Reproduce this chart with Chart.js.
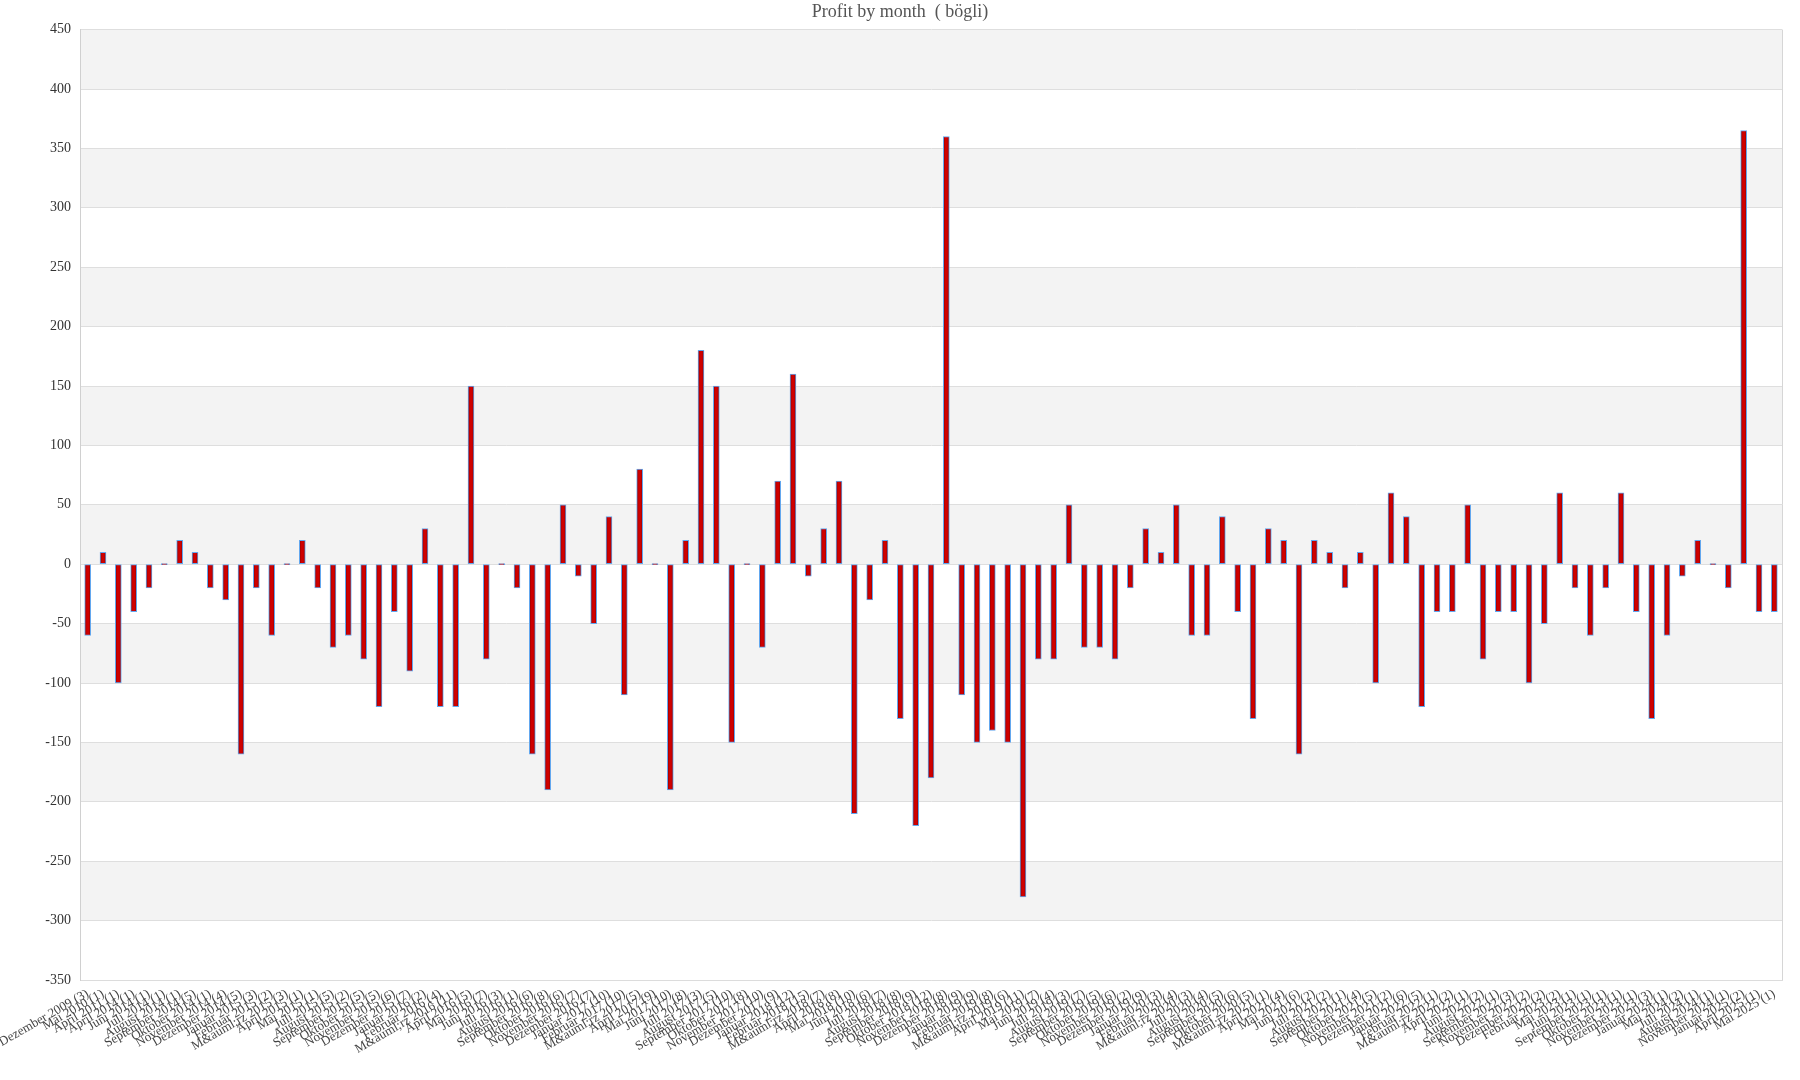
<!DOCTYPE html>
<html>
<head>
<meta charset="utf-8">
<title>Profit by month</title>
<script src="https://cdn.jsdelivr.net/npm/chart.js@4.4.1/dist/chart.umd.min.js"></script>
<style>
  html, body { margin: 0; padding: 0; background: #fff; }
  #profit-chart { display: block; }
</style>
</head>
<body>
<canvas id="profit-chart" width="1800" height="1080"></canvas>
<script>
const months = [
  'Dezember 2009', 'Mai 2010', 'April 2011', 'April 2014', 'Juni 2014', 'Juli 2014', 'August 2014',
  'September 2014', 'Oktober 2014', 'November 2014', 'Dezember 2014', 'Januar 2015', 'Februar 2015',
  'M&auml;rz 2015', 'April 2015', 'Mai 2015', 'Juli 2015', 'August 2015', 'September 2015',
  'Oktober 2015', 'November 2015', 'Dezember 2015', 'Januar 2016', 'Februar 2016', 'M&auml;rz 2016',
  'April 2016', 'Mai 2016', 'Juni 2016', 'Juli 2016', 'August 2016', 'September 2016', 'Oktober 2016',
  'November 2016', 'Dezember 2016', 'Januar 2017', 'Februar 2017', 'M&auml;rz 2017', 'April 2017',
  'Mai 2017', 'Juni 2017', 'Juli 2017', 'August 2017', 'September 2017', 'Oktober 2017',
  'November 2017', 'Dezember 2017', 'Januar 2018', 'Februar 2018', 'M&auml;rz 2018', 'April 2018',
  'Mai 2018', 'Juni 2018', 'Juli 2018', 'August 2018', 'September 2018', 'Oktober 2018',
  'November 2018', 'Dezember 2018', 'Januar 2019', 'Februar 2019', 'M&auml;rz 2019', 'April 2019',
  'Mai 2019', 'Juni 2019', 'Juli 2019', 'August 2019', 'September 2019', 'Oktober 2019',
  'November 2019', 'Dezember 2019', 'Januar 2020', 'Februar 2020', 'M&auml;rz 2020', 'Juli 2020',
  'August 2020', 'September 2020', 'Oktober 2020', 'M&auml;rz 2021', 'April 2021', 'Mai 2021',
  'Juni 2021', 'Juli 2021', 'August 2021', 'September 2021', 'Oktober 2021', 'November 2021',
  'Dezember 2021', 'Januar 2022', 'Februar 2022', 'M&auml;rz 2022', 'April 2022', 'Juni 2022',
  'August 2022', 'September 2022', 'November 2022', 'Dezember 2022', 'Februar 2023', 'Mai 2023',
  'Juni 2023', 'September 2023', 'Oktober 2023', 'November 2023', 'Dezember 2023', 'Januar 2024',
  'Mai 2024', 'Juli 2024', 'August 2024', 'November 2024', 'Januar 2025', 'April 2025', 'Mai 2025',
];

const counts = [
  3, 1, 1, 1, 1, 1, 1, 5, 1, 4, 5, 3, 2, 3, 1, 1, 5, 2, 5, 5,
  6, 7, 2, 4, 11, 5, 7, 3, 1, 6, 8, 6, 7, 7, 10, 10, 5, 9, 10, 8,
  3, 5, 10, 8, 10, 9, 12, 15, 7, 8, 10, 6, 7, 8, 9, 12, 8, 9, 9, 8,
  6, 11, 7, 4, 3, 7, 5, 6, 2, 9, 3, 4, 3, 4, 5, 6, 5, 1, 4, 6,
  2, 2, 1, 4, 5, 2, 6, 5, 1, 2, 1, 2, 1, 3, 2, 2, 2, 1, 1, 1,
  1, 1, 3, 1, 2, 1, 1, 1, 2, 1, 1,
];

const profit = [
  -60, 10, -100, -40, -20, 0, 20, 10, -20, -30,
  -160, -20, -60, 0, 20, -20, -70, -60, -80, -120,
  -40, -90, 30, -120, -120, 150, -80, 0, -20, -160,
  -190, 50, -10, -50, 40, -110, 80, 0, -190, 20,
  180, 150, -150, 0, -70, 70, 160, -10, 30, 70,
  -210, -30, 20, -130, -220, -180, 360, -110, -150, -140,
  -150, -280, -80, -80, 50, -70, -70, -80, -20, 30,
  10, 50, -60, -60, 40, -40, -130, 30, 20, -160,
  20, 10, -20, 10, -100, 60, 40, -120, -40, -40,
  50, -80, -40, -40, -100, -50, 60, -20, -60, -20,
  60, -40, -130, -60, -10, 20, 0, -20, 365, -40,
  -40,
];

const yMin = -350;
const yMax = 450;
const yStep = 50;

const labels = months.map((m, i) => m + ' (' + counts[i] + ')');

// alternating grey bands behind the grid, plus the right frame line
const bandsPlugin = {
  id: 'bands',
  beforeDraw(chart) {
    const { ctx, chartArea, scales } = chart;
    const y = scales.y;
    ctx.save();
    ctx.fillStyle = '#f3f3f3';
    for (let v = yMin + yStep; v < yMax; v += 2 * yStep) {
      const top = y.getPixelForValue(v + yStep);
      const bottom = y.getPixelForValue(v);
      ctx.fillRect(chartArea.left, top, chartArea.right - chartArea.left, bottom - top);
    }
    ctx.strokeStyle = '#d6d6d6';
    ctx.lineWidth = 1;
    ctx.beginPath();
    ctx.moveTo(Math.round(chartArea.right) + 0.5, chartArea.top);
    ctx.lineTo(Math.round(chartArea.right) + 0.5, chartArea.bottom);
    ctx.stroke();
    ctx.restore();
  },
};

// dark-edged red fill like the original bars
function barFill(context) {
  const chart = context.chart;
  const xs = chart.scales.x;
  if (!xs || context.dataIndex === undefined) return '#cc0000';
  const cx = xs.getPixelForValue(context.dataIndex);
  if (!isFinite(cx)) return '#cc0000';
  const g = chart.ctx.createLinearGradient(cx - 3, 0, cx + 3, 0);
  g.addColorStop(0, '#8a0000');
  g.addColorStop(0.35, '#cf0000');
  g.addColorStop(0.65, '#cf0000');
  g.addColorStop(1, '#8a0000');
  return g;
}

new Chart(document.getElementById('profit-chart'), {
  type: 'bar',
  data: {
    labels: labels,
    datasets: [
      {
        label: 'Profit',
        data: profit,
        backgroundColor: barFill,
        borderColor: '#63a7ee',
        borderWidth: 1,
        borderSkipped: false,
        barThickness: 6,
        minBarLength: 1,
      },
    ],
  },
  options: {
    responsive: false,
    animation: false,
    plugins: {
      legend: { display: false },
      tooltip: { enabled: false },
      title: {
        display: true,
        text: 'Profit by month  ( bögli)',
        color: '#555',
        font: { family: 'Liberation Serif', size: 18, weight: 'normal' },
        padding: { top: 1, bottom: 7 },
      },
    },
    scales: {
      x: {
        offset: true,
        grid: { display: false, drawTicks: false },
        border: { display: true, color: '#dcdcdc' },
        ticks: {
          autoSkip: false,
          minRotation: 30,
          maxRotation: 30,
          padding: 6,
          color: '#444',
          font: { family: 'Liberation Serif', size: 13 },
        },
        afterFit(scale) {
          scale.height = 100;
          // let the first label run into the margin instead of pushing the plot
          scale.paddingLeft = 0;
          scale.paddingRight = 0;
        },
      },
      y: {
        min: yMin,
        max: yMax,
        ticks: {
          stepSize: yStep,
          padding: 9,
          color: '#333',
          font: { family: 'Liberation Serif', size: 14 },
        },
        grid: { color: '#dedede', drawTicks: false },
        border: { display: true, color: '#d0d0d0' },
        afterFit(scale) {
          scale.width = 80;
        },
      },
      // empty margin on the right so the title stays centred on the page
      yRight: {
        position: 'right',
        grid: { display: false, drawTicks: false },
        border: { display: false },
        ticks: { display: false },
        afterFit(scale) {
          scale.width = 18;
        },
      },
    },
  },
  plugins: [bandsPlugin],
});
</script>
</body>
</html>
